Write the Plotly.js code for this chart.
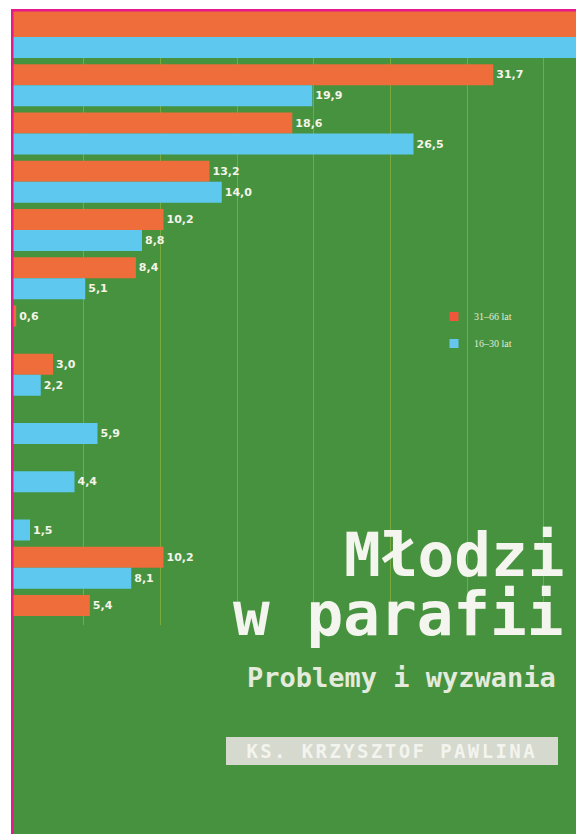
<!DOCTYPE html>
<html>
<head>
<meta charset="utf-8">
<script src="https://cdn.plot.ly/plotly-3.0.1.min.js"></script>
<style>
html,body{margin:0;padding:0;background:#ffffff;}
#chart{width:576px;height:834px;}
</style>
</head>
<body>
<div id="chart"></div>
<script>
const rows = [0, 1, 2, 3, 4, 5, 6, 7, 8, 9, 10, 11, 12];
const olderValues = [44.0, 31.7, 18.6, 13.2, 10.2, 8.4, 0.6, 3.0, null, null, null, 10.2, 5.4];
const youngerValues = [42.0, 19.9, 26.5, 14.0, 8.8, 5.1, null, 2.2, 5.9, 4.4, 1.5, 8.1, null];
const seriesNames = ['31–66 lat', '16–30 lat'];
const gridTicks = [5, 10, 15, 20, 25, 30, 35];
const titleLine1 = 'Młodzi';
const titleLine2 = 'w parafii';
const subtitle = 'Problemy i wyzwania';
const author = 'KS. KRZYSZTOF PAWLINA';

// ---- styling ----
const W = 576, H = 834;
const GREEN = '#46923f';
const ORANGE = '#ef6d3a';
const BLUE = '#5ec8ef';
const GRID = '#79ab3c';
const MAGENTA = '#e6198b';
const X_MIN = -7 / 15.34, X_MAX = (W - 7) / 15.34;
const PITCH = 48.25;           // px per group
const BAR = 21 / PITCH;        // bar thickness in data units
const plotBottomPx = 625;
const yTop = -37 / PITCH;
const yBottom = (plotBottomPx - 37) / PITCH;

const olderWidth = rows.map((r, i) => i === 0 ? 0.65 : BAR);
const olderOffset = olderWidth.map(w => -w);
const txtPos = vals => vals.map(v => (v === null || v > X_MAX) ? 'none' : 'outside');

const labelFont = {family: 'DejaVu Sans', size: 11, color: '#f4f4e8', weight: 'bold'};

const traces = [
  {
    type: 'bar', orientation: 'h', x: olderValues, y: rows,
    width: olderWidth, offset: olderOffset,
    marker: {color: ORANGE, line: {width: 0}},
    texttemplate: '%{x:.1f}', textposition: txtPos(olderValues),
    textfont: labelFont, outsidetextfont: labelFont,
    showlegend: false, hoverinfo: 'skip', cliponaxis: true
  },
  {
    type: 'bar', orientation: 'h', x: youngerValues, y: rows,
    width: BAR, offset: 0,
    marker: {color: BLUE, line: {width: 0}},
    texttemplate: '%{x:.1f}', textposition: txtPos(youngerValues),
    textfont: labelFont, outsidetextfont: labelFont,
    showlegend: false, hoverinfo: 'skip', cliponaxis: true
  },
  {
    type: 'scatter', mode: 'markers', x: [null], y: [null], name: seriesNames[0],
    legendgroup: 'a', marker: {symbol: 'square', size: 9, color: '#f0563a', line: {width: 0}}
  },
  {
    type: 'scatter', mode: 'markers', x: [null], y: [null], name: seriesNames[1],
    legendgroup: 'b', marker: {symbol: 'square', size: 9, color: '#66c6ee', line: {width: 0}}
  }
];

const px = v => v / W;
const py = v => 1 - v / H;

const layout = {
  width: W, height: H,
  margin: {l: 0, r: 0, t: 0, b: 0, pad: 0},
  paper_bgcolor: GREEN, plot_bgcolor: GREEN,
  separators: ', ',
  barmode: 'overlay',
  showlegend: true,
  legend: {
    x: px(434), y: py(302), xanchor: 'left', yanchor: 'top',
    bgcolor: 'rgba(0,0,0,0)', borderwidth: 0,
    font: {family: 'Liberation Serif', size: 10, color: '#e2ead8'},
    tracegroupgap: 8, itemwidth: 30
  },
  xaxis: {
    domain: [0, 1], range: [X_MIN, X_MAX],
    tickmode: 'array', tickvals: gridTicks,
    showgrid: true, gridcolor: GRID, gridwidth: 1,
    showticklabels: false, ticks: '', zeroline: false, showline: false, fixedrange: true
  },
  yaxis: {
    domain: [1 - plotBottomPx / H, 1], range: [yBottom, yTop],
    showgrid: false, showticklabels: false, ticks: '', zeroline: false, showline: false, fixedrange: true
  },
  shapes: [
    {type: 'rect', xref: 'paper', yref: 'paper', x0: 0, x1: px(11), y0: 0, y1: 1, fillcolor: '#ffffff', line: {width: 0}, layer: 'above'},
    {type: 'rect', xref: 'paper', yref: 'paper', x0: 0, x1: 1, y0: py(9), y1: 1, fillcolor: '#ffffff', line: {width: 0}, layer: 'above'},
    {type: 'rect', xref: 'paper', yref: 'paper', x0: px(11), x1: px(13.5), y0: 0, y1: py(9), fillcolor: MAGENTA, line: {width: 0}, layer: 'above'},
    {type: 'rect', xref: 'paper', yref: 'paper', x0: px(11), x1: 1, y0: py(11.5), y1: py(9), fillcolor: MAGENTA, line: {width: 0}, layer: 'above'}
  ],
  annotations: [
    {text: titleLine1, xref: 'paper', yref: 'paper', x: px(566), y: py(554), xanchor: 'right', yanchor: 'middle',
     showarrow: false, font: {family: 'DejaVu Sans Mono', size: 61, color: '#f5f5ef', weight: 'bold'}},
    {text: titleLine2, xref: 'paper', yref: 'paper', x: px(566), y: py(613), xanchor: 'right', yanchor: 'middle',
     showarrow: false, font: {family: 'DejaVu Sans Mono', size: 61, color: '#f5f5ef', weight: 'bold'}},
    {text: subtitle, xref: 'paper', yref: 'paper', x: px(558), y: py(677), xanchor: 'right', yanchor: 'middle',
     showarrow: false, font: {family: 'DejaVu Sans Mono', size: 27, color: '#e4eadc', weight: 'bold'}},
    {text: author, xref: 'paper', yref: 'paper', x: px(226), y: py(737), xanchor: 'left', yanchor: 'top',
     width: 332, height: 28, align: 'center', valign: 'middle', borderpad: 0, borderwidth: 0,
     bgcolor: '#d5d9ce', showarrow: false,
     font: {family: 'DejaVu Sans Mono', size: 19, color: '#f3f4ee', weight: 'bold'}}
  ]
};

Plotly.newPlot('chart', traces, layout, {staticPlot: true, displayModeBar: false}).then(() => {
  document.querySelectorAll('.annotation-text').forEach(t => {
    if (t.textContent === author) t.style.letterSpacing = '2.4px';
  });
});
</script>
</body>
</html>
